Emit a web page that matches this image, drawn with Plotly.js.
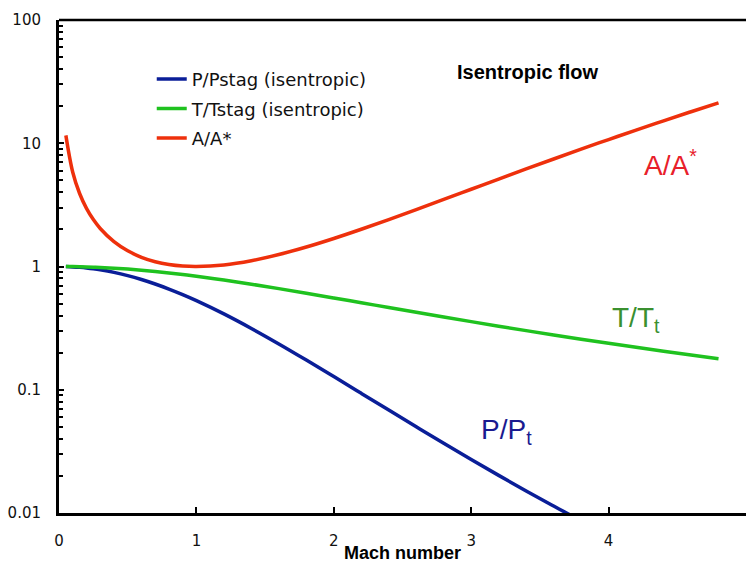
<!DOCTYPE html>
<html><head><meta charset="utf-8">
<script src="https://cdn.plot.ly/plotly-3.0.1.min.js"></script>
<style>body{margin:0;background:#fff}#c{width:746px;height:563px}</style>
</head><body><div id="c"></div>
<script>
const mach = [0.05,0.1,0.15,0.2,0.25,0.3,0.4,0.5,0.6,0.7,0.8,0.9,1.0,1.2,1.4,1.6,1.8,2.0,2.2,2.4,2.6,2.8,3.0,3.2,3.4,3.6,3.8,4.0,4.2,4.4,4.6,4.8];
const pRatio = [0.9983,0.9930,0.9844,0.9725,0.9575,0.9395,0.8956,0.8430,0.7840,0.7209,0.6560,0.5913,0.5283,0.4124,0.3142,0.2353,0.1740,0.1278,0.0935,0.0684,0.0501,0.0368,0.0272,0.0202,0.0151,0.0114,0.00862,0.00659,0.00506,0.00392,0.00305,0.00240];
const tRatio = [0.9995,0.998,0.9955,0.9921,0.9877,0.9823,0.9690,0.9524,0.9328,0.9107,0.8865,0.8606,0.8333,0.7764,0.7184,0.6614,0.6068,0.5556,0.5081,0.4647,0.4252,0.3894,0.3571,0.3281,0.3019,0.2784,0.2572,0.2381,0.2208,0.2053,0.1911,0.1783];
const aRatio = [11.59,5.822,3.910,2.964,2.403,2.035,1.590,1.340,1.188,1.094,1.038,1.009,1.000,1.030,1.115,1.250,1.439,1.688,2.005,2.403,2.896,3.500,4.235,5.121,6.184,7.450,8.951,10.72,12.79,15.21,18.02,21.26];
const seriesNames = ['P/Pstag (isentropic)','T/Tstag (isentropic)','A/A*'];
const yTickVals = [0.01,0.1,1,10,100];
const yTickText = ['0.01','0.1','1','10','100'];
const xTickVals = [0,1,2,3,4,5];

const traces = [
  {x:mach,y:pRatio,name:seriesNames[0],legendgroup:'g1',mode:'lines',line:{color:'#0a1e98',width:3.5,shape:'spline'}},
  {x:mach,y:tRatio,name:seriesNames[1],legendgroup:'g2',mode:'lines',line:{color:'#1fc21f',width:3.5,shape:'spline'}},
  {x:mach,y:aRatio,name:seriesNames[2],legendgroup:'g3',mode:'lines',line:{color:'#ee300c',width:3.5,shape:'spline'}}
];
const tickFont = {family:'DejaVu Sans, sans-serif',size:15,color:'#111'};
const lab = (t,x,y,c,s,b)=>({text:t,xref:'paper',yref:'paper',x:x,y:y,xanchor:'center',yanchor:'middle',showarrow:false,
  font:{family:'Liberation Sans, Arial, sans-serif',size:s,color:c}});
const layout = {
  width:746,height:563,
  margin:{l:59,r:0,t:20,b:50},
  paper_bgcolor:'#fff',plot_bgcolor:'#fff',
  showlegend:true,
  legend:{x:0.135,y:0.917,xanchor:'left',yanchor:'top',bgcolor:'rgba(0,0,0,0)',
    font:{family:'DejaVu Sans, sans-serif',size:18,color:'#111'},tracegroupgap:3},
  xaxis:{range:[0,5],tickvals:xTickVals,ticks:'inside',ticklen:6,tickwidth:2,tickcolor:'#000',
    showline:true,linewidth:3,linecolor:'#000',mirror:false,showgrid:false,zeroline:false,
    tickfont:tickFont,ticklabelstandoff:12,
    title:{text:'Mach number',font:{family:'Liberation Sans, Arial, sans-serif',size:18,color:'#000',weight:'bold'},standoff:0}},
  yaxis:{type:'log',range:[-2,2],tickvals:yTickVals,ticktext:yTickText,ticks:'inside',ticklen:5,tickwidth:2,tickcolor:'#000',
    minor:{ticks:'inside',ticklen:4,tickwidth:2,tickcolor:'#000',dtick:'D1',showgrid:false},
    showline:true,linewidth:3,linecolor:'#000',showgrid:false,zeroline:false,
    tickfont:tickFont,ticklabelstandoff:12},
  shapes:[{type:'line',xref:'paper',yref:'paper',x0:0,x1:1,y0:1,y1:1,line:{color:'#000',width:2.5}}],
  annotations:[
    lab('<b>Isentropic flow</b>',0.683,0.8945,'#000',20),
    lab('A/A<sup>*</sup>',0.89,0.710,'#e8202a',28),
    lab('T/T<sub>t</sub>',0.840,0.392,'#3a9030',28),
    lab('P/P<sub>t</sub>',0.652,0.166,'#1a1a90',28)
  ]
};
Plotly.newPlot('c',traces,layout,{displayModeBar:false,staticPlot:true});
</script></body></html>
